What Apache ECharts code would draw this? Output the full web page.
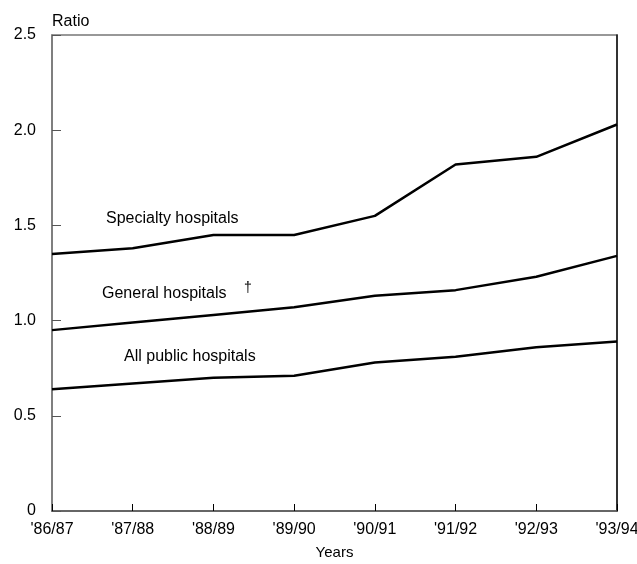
<!DOCTYPE html>
<html>
<head>
<meta charset="utf-8">
<script src="https://cdn.jsdelivr.net/npm/echarts@6/dist/echarts.min.js"></script>
<style>
  html, body { margin: 0; padding: 0; background: #fff; }
  #main { width: 637px; height: 564px; }
</style>
</head>
<body>
<div id="main"></div>
<script>
// 数据
var years = ["'86/87", "'87/88", "'88/89", "'89/90", "'90/91", "'91/92", "'92/93", "'93/94"];
var specialty = [1.35, 1.38, 1.45, 1.45, 1.55, 1.82, 1.86, 2.03];
var general = [0.95, 0.99, 1.03, 1.07, 1.13, 1.16, 1.23, 1.34];
var allPublic = [0.64, 0.67, 0.70, 0.71, 0.78, 0.81, 0.86, 0.89];
var yTicks = [0, 0.5, 1.0, 1.5, 2.0, 2.5];

var font = 'Liberation Sans, Arial, sans-serif';
var myChart = echarts.init(document.getElementById('main'));

function lineSeries(name, data) {
    return {
        name: name,
        type: 'line',
        data: data,
        symbol: 'none',
        lineStyle: { color: '#000', width: 2.5 },
        silent: true
    };
}

var option = {
    animation: false,
    backgroundColor: '#fff',
    grid: {
        left: 52, right: 20, top: 35, bottom: 53,
        outerBoundsMode: 'none',
        containLabel: false,
        show: true, borderColor: '#777', borderWidth: 1.5
    },
    xAxis: {
        type: 'category',
        data: years,
        boundaryGap: false,
        name: 'Years',
        nameLocation: 'middle',
        nameGap: 34,
        nameTextStyle: { fontFamily: font, fontSize: 15, color: '#000' },
        axisLine: { lineStyle: { color: '#555', width: 1.5 } },
        axisTick: { inside: true, length: 7, lineStyle: { color: '#000' } },
        axisLabel: { fontFamily: font, fontSize: 16, color: '#000', margin: 11, interval: 0 },
        splitLine: { show: false }
    },
    yAxis: [{
        type: 'value',
        min: yTicks[0],
        max: yTicks[yTicks.length - 1],
        interval: 0.5,
        axisLine: { show: true, lineStyle: { color: '#777', width: 1.5 } },
        axisTick: { show: true, inside: true, length: 9, lineStyle: { color: '#555' } },
        axisLabel: {
            fontFamily: font, fontSize: 16, color: '#000', margin: 16,
            formatter: function (v) { return v === 0 ? '0' : v.toFixed(1); }
        },
        splitLine: { show: false }
    }, {
        type: 'value',
        position: 'right',
        min: yTicks[0],
        max: yTicks[yTicks.length - 1],
        interval: 0.5,
        axisLine: { show: true, lineStyle: { color: '#111', width: 1.5 } },
        axisTick: { show: false },
        axisLabel: { show: false },
        splitLine: { show: false }
    }],
    graphic: [
        { type: 'text', left: 52, top: 14, style: { text: 'Ratio', font: '16px ' + font, fill: '#000' } },
        { type: 'text', left: 106, top: 211, style: { text: 'Specialty hospitals', font: '16px ' + font, fill: '#000' } },
        { type: 'text', left: 102, top: 286, style: { text: 'General hospitals', font: '16px ' + font, fill: '#000' } },
        { type: 'text', left: 244, top: 281, style: { text: '\u2020', font: '14px ' + font, fill: '#000' } },
        { type: 'text', left: 124, top: 349, style: { text: 'All public hospitals', font: '16px ' + font, fill: '#000' } }
    ],
    series: [
        lineSeries('Specialty hospitals', specialty),
        lineSeries('General hospitals', general),
        lineSeries('All public hospitals', allPublic)
    ]
};

myChart.setOption(option);
</script>
</body>
</html>
